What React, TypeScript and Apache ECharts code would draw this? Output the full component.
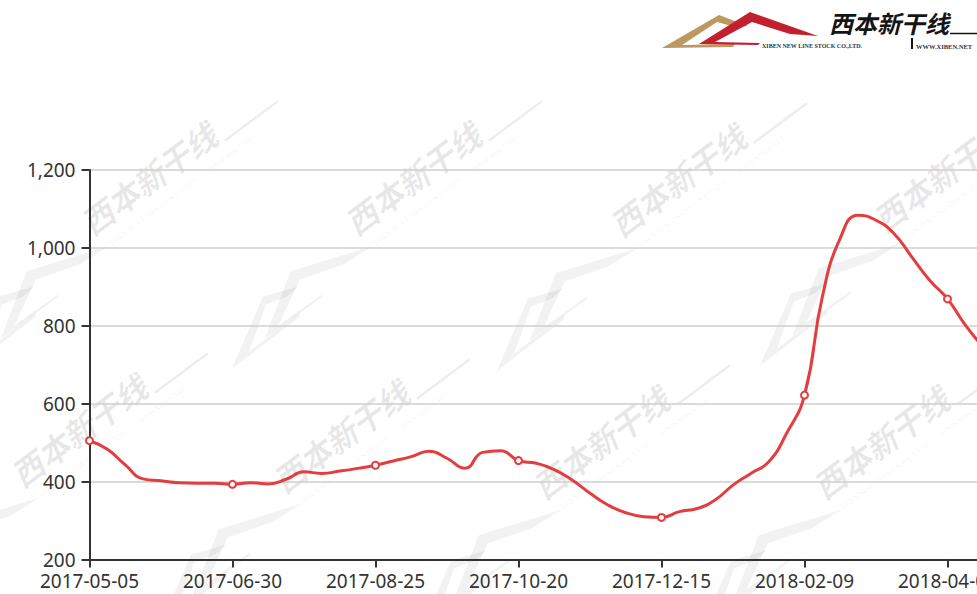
import React, { useEffect, useRef } from 'react';
import * as echarts from 'echarts';

const categories = [
  '2017-05-05', '2017-05-12', '2017-05-19', '2017-05-26', '2017-06-02', '2017-06-09', '2017-06-16', '2017-06-23',
  '2017-06-30', '2017-07-07', '2017-07-14', '2017-07-21', '2017-07-28', '2017-08-04', '2017-08-11', '2017-08-18',
  '2017-08-25', '2017-09-01', '2017-09-08', '2017-09-15', '2017-09-22', '2017-09-29', '2017-10-06', '2017-10-13',
  '2017-10-20', '2017-10-27', '2017-11-03', '2017-11-10', '2017-11-17', '2017-11-24', '2017-12-01', '2017-12-08',
  '2017-12-15', '2017-12-22', '2017-12-29', '2018-01-05', '2018-01-12', '2018-01-19', '2018-01-26', '2018-02-02',
  '2018-02-09', '2018-02-16', '2018-02-23', '2018-03-02', '2018-03-09', '2018-03-16', '2018-03-23', '2018-03-30',
  '2018-04-06', '2018-04-13', '2018-04-20',
];

const prices = [
  505, 483, 443, 407, 402, 397, 396, 396,
  393, 397, 394, 406, 425, 421, 427, 434,
  442, 453, 464, 478, 460, 434, 475, 479,
  454, 447, 431, 404, 370, 340, 320, 310,
  308, 323, 331, 353, 391, 421, 451, 524,
  622, 875, 1025, 1084, 1071, 1037, 977, 917,
  869, 802, 745,
];

const yMin = 200;
const yMax = 1200;
const yStep = 200;

const LINE_RED = '#e33d3f';
const FONT = "'Noto Sans', 'Noto Sans CJK SC', sans-serif";

const goldPts = [[-78, 18], [-21, -15], [8, -4], [-5, -3], [-23, -8], [-58, 15], [-5, 14], [-7, 17]];
const redPts = [[-41, 14], [10, -18], [78, 6], [50, 4], [12, -8], [-25, 12], [20, 13], [18, 15]];

const watermarkSpots = [
  [148, 178], [412, 178], [677, 180], [940, 175],
  [78, 430], [340, 436], [600, 442], [880, 442],
];

function buildGraphic() {
  const els: any[] = [];
  watermarkSpots.forEach(([x, y]) => {
    els.push({
      type: 'group', x, y, rotation: 0.64, silent: true, z: -1,
      children: [
        {
          type: 'text', z: -1,
          style: {
            text: '西本新干线', x: 0, y: 0, align: 'center', verticalAlign: 'middle',
            fontSize: 32, fontWeight: 'bold', fontStyle: 'italic',
            fontFamily: "'Noto Sans CJK SC'", fill: 'rgba(0,0,0,0.09)',
          },
        },
        { type: 'line', z: -1, shape: { x1: 84, y1: 16, x2: 150, y2: 16 }, style: { stroke: 'rgba(0,0,0,0.07)', lineWidth: 2.5 } },
        {
          type: 'text', z: -1,
          style: {
            text: 'XIBEN NEW LINE STOCK CO.,LTD.        WWW.XIBEN.NET', x: 20, y: 30, align: 'center',
            verticalAlign: 'middle', fontSize: 7, fontFamily: "'Liberation Serif'", fill: 'rgba(0,0,0,0.08)',
          },
        },
        {
          type: 'group', x: -165, y: 24, scaleX: 1.2, scaleY: 1.2, z: -1,
          children: [
            { type: 'polygon', z: -1, shape: { points: goldPts }, style: { fill: 'rgba(0,0,0,0.05)' } },
            { type: 'polygon', z: -1, shape: { points: redPts }, style: { fill: 'rgba(0,0,0,0.05)' } },
          ],
        },
      ],
    });
  });

  // header logo
  els.push({
    type: 'group', x: 740, y: 30, silent: true, z: 10,
    children: [
      { type: 'polygon', shape: { points: goldPts }, style: { fill: '#bd9860' } },
      { type: 'polygon', shape: { points: redPts }, style: { fill: '#c41f2e' } },
    ],
  });
  els.push({
    type: 'text', silent: true, z: 10,
    style: {
      text: '西本新干线', x: 829, y: 22, verticalAlign: 'middle', fontSize: 24,
      fontWeight: 'bold', fontStyle: 'italic', fontFamily: "'Noto Sans CJK SC'", fill: '#151515',
    },
  });
  els.push({ type: 'line', silent: true, z: 10, shape: { x1: 950, y1: 33.5, x2: 977, y2: 33.5 }, style: { stroke: '#151515', lineWidth: 1.5 } });
  els.push({ type: 'line', silent: true, z: 10, shape: { x1: 912, y1: 38, x2: 912, y2: 49 }, style: { stroke: '#151515', lineWidth: 2 } });
  els.push({
    type: 'text', silent: true, z: 10,
    style: {
      text: 'XIBEN NEW LINE STOCK CO.,LTD.', x: 762, y: 46, verticalAlign: 'middle', fontSize: 6,
      fontWeight: 'bold', fontFamily: "'Liberation Serif'", fill: '#333',
    },
  });
  els.push({
    type: 'text', silent: true, z: 10,
    style: {
      text: 'WWW.XIBEN.NET', x: 916, y: 46, verticalAlign: 'middle', fontSize: 6.5,
      fontWeight: 'bold', fontFamily: "'Liberation Serif'", fill: '#333',
    },
  });
  return els;
}

export default function App() {
  const ref = useRef<HTMLDivElement>(null);

  useEffect(() => {
    if (!ref.current) return;
    const chart = echarts.init(ref.current, undefined, { renderer: 'svg' });
    const axisColor = '#333';
    chart.setOption({
      animation: false,
      backgroundColor: '#fff',
      grid: { left: 89.5, right: 16.75, top: 170, bottom: 34.5, containLabel: false, outerBoundsMode: 'none' },
      xAxis: {
        type: 'category',
        data: categories,
        boundaryGap: false,
        axisLine: { show: true, lineStyle: { color: axisColor, width: 2 } },
        axisTick: { show: true, interval: 7, length: 8, lineStyle: { color: axisColor, width: 2 } },
        axisLabel: { interval: 7, margin: 12, color: axisColor, fontSize: 19, fontFamily: FONT, hideOverlap: false },
        splitLine: { show: false },
      },
      yAxis: {
        type: 'value',
        min: yMin,
        max: yMax,
        interval: yStep,
        axisLine: { show: true, lineStyle: { color: axisColor, width: 2 } },
        axisTick: { show: true, length: 8, lineStyle: { color: axisColor, width: 2 } },
        axisLabel: { margin: 14, color: axisColor, fontSize: 19, fontFamily: FONT },
        splitLine: { show: true, lineStyle: { color: '#cfcfcf', width: 1.5 } },
      },
      series: [
        {
          type: 'line',
          data: prices,
          smooth: true,
          showSymbol: true,
          showAllSymbol: false,
          symbol: 'emptyCircle',
          symbolSize: 7,
          lineStyle: { color: LINE_RED, width: 3 },
          itemStyle: { color: LINE_RED, borderWidth: 1.6 },
          z: 3,
        },
      ],
      graphic: buildGraphic(),
    });
    return () => chart.dispose();
  }, []);

  return (
    <div style={{ position: 'fixed', left: 0, top: 0, width: 977, height: 594, overflow: 'hidden', background: '#fff' }}>
      <div ref={ref} style={{ width: 1000, height: 594 }} />
    </div>
  );
}
